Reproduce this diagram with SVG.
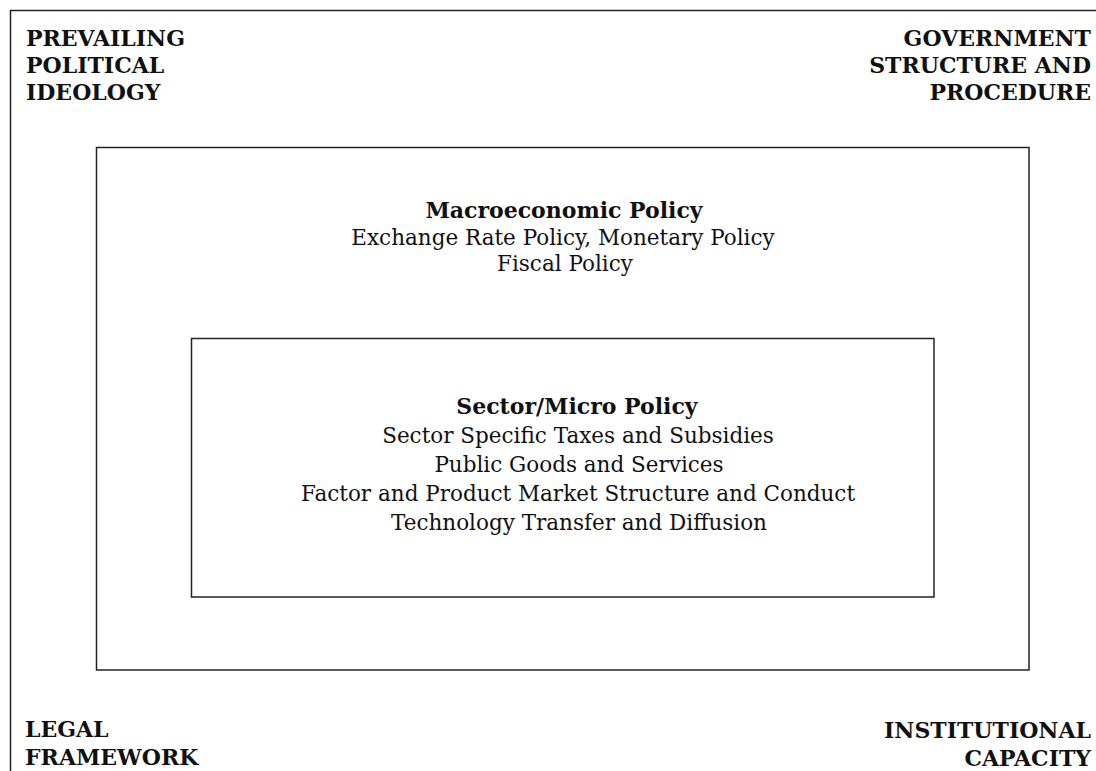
<svg xmlns="http://www.w3.org/2000/svg" width="1096" height="771" viewBox="0 0 1096 771">
<style>
.box{fill:none;stroke:#222;stroke-width:1.5}
.lbl{font-family:"DejaVu Serif","Liberation Serif",serif;font-weight:bold;font-size:22px;fill:#111}
.t{font-family:"DejaVu Serif","Liberation Serif",serif;font-size:21.5px;fill:#111;text-anchor:middle}
.tb{font-weight:bold;font-size:22px}
.r{text-anchor:end}
</style>
<rect width="1096" height="771" fill="#fff"/>
<g id="frame">
<path class="box" d="M1100 10.5 H10.5 V775"/>
</g>
<g id="ideology"><text class="lbl" x="26"><tspan x="26" y="46">PREVAILING</tspan><tspan x="26" y="73">POLITICAL</tspan><tspan x="26" y="100">IDEOLOGY</tspan></text></g>
<g id="government"><text class="lbl r" x="1091"><tspan x="1091" y="46">GOVERNMENT</tspan><tspan x="1091" y="73">STRUCTURE AND</tspan><tspan x="1091" y="100">PROCEDURE</tspan></text></g>
<g id="legal"><text class="lbl" x="25"><tspan x="25" y="737">LEGAL</tspan><tspan x="25" y="765">FRAMEWORK</tspan></text></g>
<g id="institutional"><text class="lbl r" x="1091"><tspan x="1091" y="738">INSTITUTIONAL</tspan><tspan x="1091" y="766">CAPACITY</tspan></text></g>
<g id="macro">
<rect class="box" x="96.5" y="147.5" width="932.5" height="522.5"/>
<text class="t"><tspan class="tb" x="564" y="218">Macroeconomic Policy</tspan><tspan x="563" y="245">Exchange Rate Policy, Monetary Policy</tspan><tspan x="565" y="271">Fiscal Policy</tspan></text>
</g>
<g id="micro">
<rect class="box" x="191.5" y="338.5" width="742.5" height="258.5"/>
<text class="t"><tspan class="tb" x="577" y="414">Sector/Micro Policy</tspan><tspan x="578" y="443">Sector Specific Taxes and Subsidies</tspan><tspan x="579" y="472">Public Goods and Services</tspan><tspan x="578" y="501">Factor and Product Market Structure and Conduct</tspan><tspan x="579" y="530">Technology Transfer and Diffusion</tspan></text>
</g>
</svg>
